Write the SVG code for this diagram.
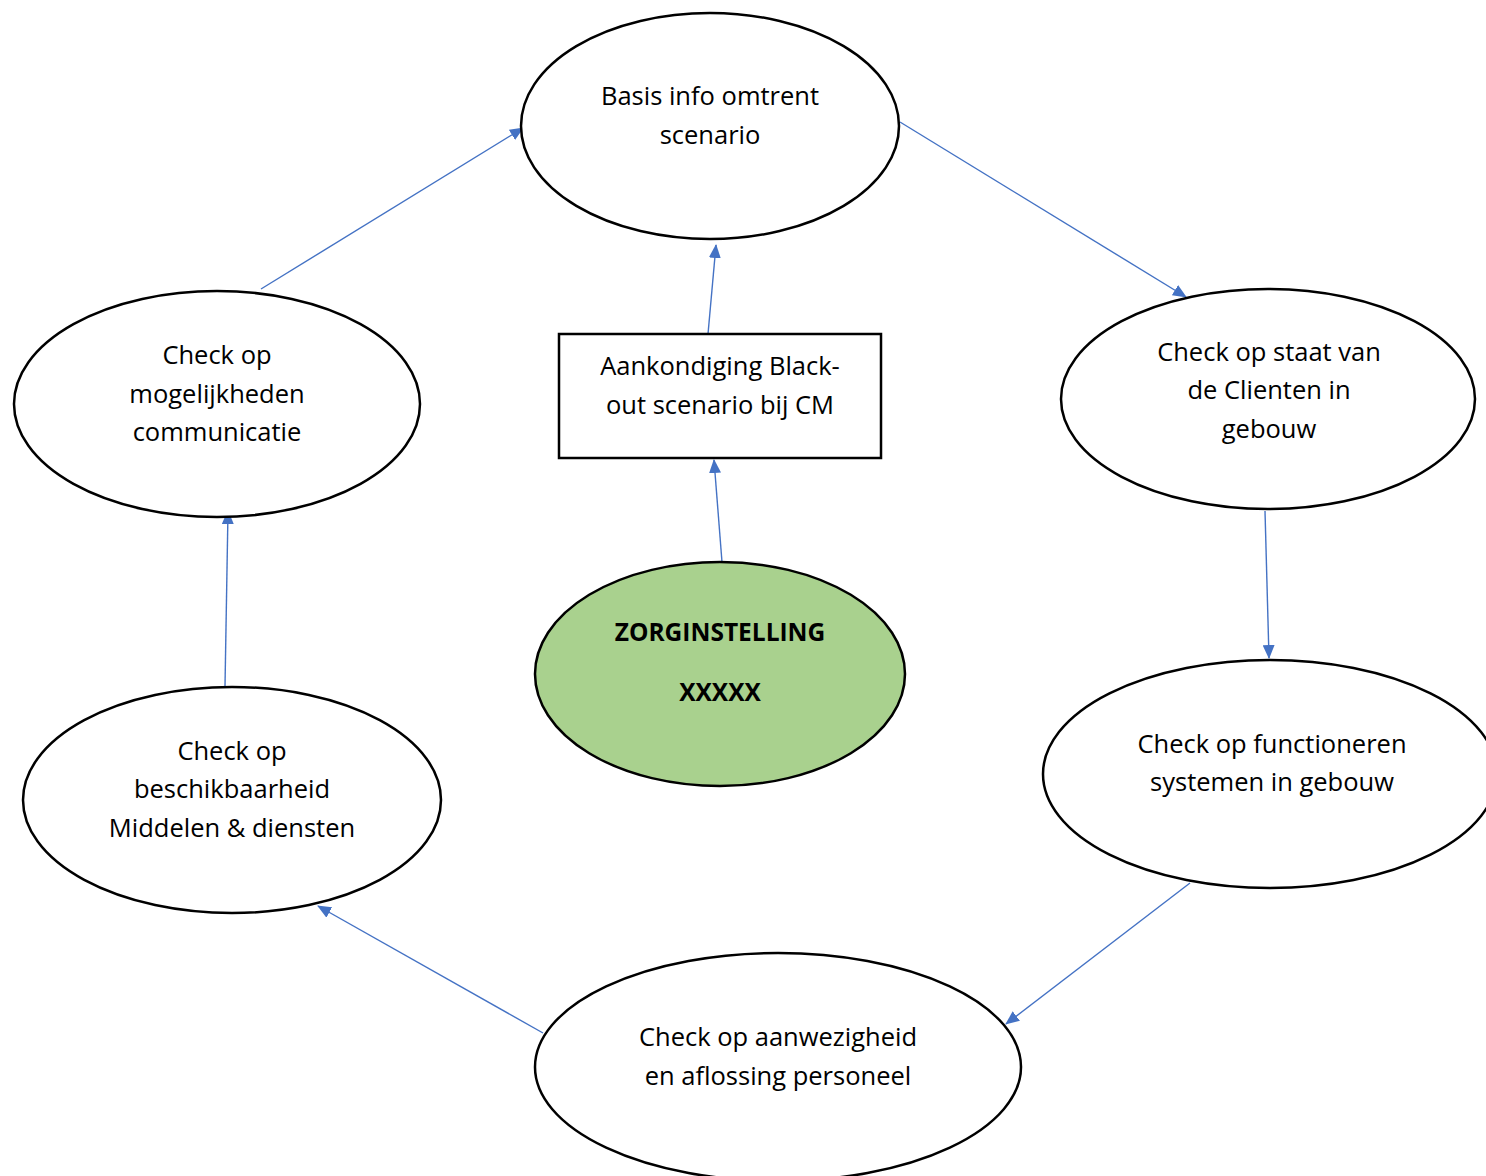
<svg xmlns="http://www.w3.org/2000/svg" width="1486" height="1176" viewBox="0 0 1486 1176">
<style>
.n{fill:#fff;stroke:#000;stroke-width:2.5}
.g{fill:#a9d18e;stroke:#000;stroke-width:2.5}
.t{font-family:"Open Sans","Liberation Sans",sans-serif;font-size:25.5px;fill:#000;text-anchor:middle}
.b{font-weight:bold;font-size:24.5px}
.c{stroke:#4472c4;stroke-width:1.4;fill:none;marker-end:url(#a)}
</style>
<defs>
<marker id="a" viewBox="0 0 14 12" refX="13" refY="6" markerWidth="14" markerHeight="12" markerUnits="userSpaceOnUse" orient="auto">
<path d="M0,0 L14,6 L0,12 Z" fill="#4472c4"/>
</marker>
</defs>
<rect width="1486" height="1176" fill="#fff"/>
<g id="connectors">
<line class="c" x1="261" y1="289" x2="523" y2="128"/>
<line class="c" x1="708" y1="334" x2="716" y2="245"/>
<line class="c" x1="722" y1="562" x2="714" y2="460"/>
<line class="c" x1="900" y1="122" x2="1186" y2="297"/>
<line class="c" x1="1265" y1="511" x2="1269" y2="658"/>
<line class="c" x1="1190" y1="883" x2="1006" y2="1024"/>
<line class="c" x1="543" y1="1033" x2="318" y2="906"/>
<line class="c" x1="225" y1="686" x2="228" y2="511"/>
</g>
<g id="basis">
<ellipse class="n" cx="710" cy="126" rx="189" ry="113"/>
<text class="t" x="710" y="105">Basis info omtrent</text>
<text class="t" x="710" y="144">scenario</text>
</g>
<g id="aankondiging">
<rect class="n" x="559" y="334" width="322" height="124" stroke-width="2"/>
<text class="t" x="720" y="375">Aankondiging Black-</text>
<text class="t" x="720" y="414">out scenario bij CM</text>
</g>
<g id="zorg">
<ellipse class="g" cx="720" cy="674" rx="185" ry="112"/>
<text class="t b" x="720" y="641">ZORGINSTELLING</text>
<text class="t b" x="720" y="701">XXXXX</text>
</g>
<g id="staat">
<ellipse class="n" cx="1268" cy="399" rx="207" ry="110"/>
<text class="t" x="1269" y="361">Check op staat van</text>
<text class="t" x="1269" y="399">de Clienten in</text>
<text class="t" x="1269" y="438">gebouw</text>
</g>
<g id="functioneren">
<ellipse class="n" cx="1270" cy="774" rx="227" ry="114"/>
<text class="t" x="1272" y="753">Check op functioneren</text>
<text class="t" x="1272" y="791">systemen in gebouw</text>
</g>
<g id="aanwezigheid">
<ellipse class="n" cx="778" cy="1067" rx="243" ry="114"/>
<text class="t" x="778" y="1046">Check op aanwezigheid</text>
<text class="t" x="778" y="1085">en aflossing personeel</text>
</g>
<g id="beschikbaarheid">
<ellipse class="n" cx="232" cy="800" rx="209" ry="113"/>
<text class="t" x="232" y="760">Check op</text>
<text class="t" x="232" y="798">beschikbaarheid</text>
<text class="t" x="232" y="837">Middelen &amp; diensten</text>
</g>
<g id="mogelijkheden">
<ellipse class="n" cx="217" cy="404" rx="203" ry="113"/>
<text class="t" x="217" y="364">Check op</text>
<text class="t" x="217" y="403">mogelijkheden</text>
<text class="t" x="217" y="441">communicatie</text>
</g>
</svg>
